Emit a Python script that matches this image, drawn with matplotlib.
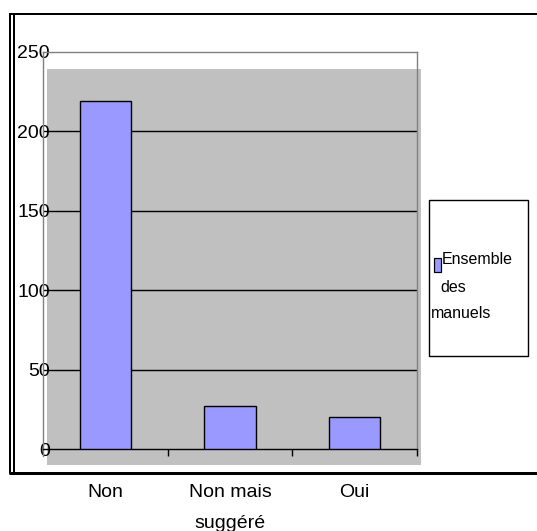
import matplotlib
matplotlib.use("Agg")
import matplotlib.pyplot as plt
from matplotlib.patches import Rectangle
from matplotlib.lines import Line2D

categories = ["Non", "Non mais\nsuggéré", "Oui"]
values = [219, 27, 20]
series_name = ["Ensemble", "des", "manuels"]
y_ticks = [0, 50, 100, 150, 200, 250]

W, H = 537, 531
plt.rcParams['font.family'] = ['Liberation Sans', 'DejaVu Sans']

fig = plt.figure(figsize=(W / 100, H / 100), dpi=100)
fig.patch.set_facecolor("white")

def fx(x):
    return x / W

def fy(y):
    return 1 - y / H

px = 0.72  # points per pixel

# gray back wall (behind the axes)
fig.add_artist(Rectangle((fx(47), fy(465)), fx(421) - fx(47), fy(69) - fy(465),
                         transform=fig.transFigure, facecolor="#C0C0C0",
                         edgecolor="none", zorder=0))

ax = fig.add_axes([fx(43), fy(449), fx(417) - fx(43), fy(52) - fy(449)])
ax.set_facecolor("none")
ax.set_zorder(1)

x = list(range(len(categories)))
ax.bar(x, values, width=0.41, color="#9999FF", edgecolor="black",
       linewidth=1.4 * px, zorder=3)

ax.set_xlim(-0.5, len(categories) - 0.5)
ax.set_ylim(0, 250)

ax.set_yticks(y_ticks)
ax.set_yticklabels([str(v) for v in y_ticks])
for v in y_ticks[1:-1]:
    ax.axhline(v, color="black", linewidth=1.4 * px, zorder=2)

ax.tick_params(axis="y", length=0, pad=-7 * px, labelsize=14, colors="black")

ax.set_xticks(x)
ax.set_xticklabels(categories, linespacing=2.1)
ax.set_xticks([0.5, 1.5, 2.5], minor=True)
ax.tick_params(axis="x", which="major", length=0, pad=35 * px, labelsize=14)
ax.tick_params(axis="x", which="minor", length=7 * px, width=1.4 * px,
               color="black", direction="out")

for s in ["left", "top", "right"]:
    ax.spines[s].set_color("#808080")
    ax.spines[s].set_linewidth(1.4 * px)
ax.spines["bottom"].set_color("black")
ax.spines["bottom"].set_linewidth(1.4 * px)
ax.spines["left"].set_bounds(-4.4, 250)

# outer chart frame
frame_kw = dict(transform=fig.transFigure, color="black", zorder=5,
                solid_capstyle="butt")
fig.add_artist(Line2D([fx(9), fx(537)], [fy(13.5), fy(13.5)], linewidth=2 * px, **frame_kw))
fig.add_artist(Line2D([fx(10), fx(10)], [fy(13), fy(474)], linewidth=2 * px, **frame_kw))
fig.add_artist(Line2D([fx(13.5), fx(13.5)], [fy(13), fy(472)], linewidth=2 * px, **frame_kw))
fig.add_artist(Line2D([fx(9), fx(537)], [fy(473), fy(473)], linewidth=3 * px, **frame_kw))

# legend box
fig.add_artist(Rectangle((fx(429), fy(356)), fx(528) - fx(429), fy(200) - fy(356),
                         transform=fig.transFigure, facecolor="white",
                         edgecolor="black", linewidth=1.4 * px, zorder=4))
fig.add_artist(Rectangle((fx(433.5), fy(271.5)), fx(441) - fx(433.5), fy(258) - fy(271.5),
                         transform=fig.transFigure, facecolor="#9999FF",
                         edgecolor="black", linewidth=1.2 * px, zorder=5))
fig.text(fx(442), fy(259), series_name[0], fontsize=11.5, ha="left", va="center", zorder=6)
fig.text(fx(440), fy(288), series_name[1], fontsize=11.5, ha="left", va="center", zorder=6)
fig.text(fx(431), fy(314), series_name[2], fontsize=11.5, ha="left", va="center", zorder=6)

fig.savefig("out.png", dpi=100, facecolor="white")
